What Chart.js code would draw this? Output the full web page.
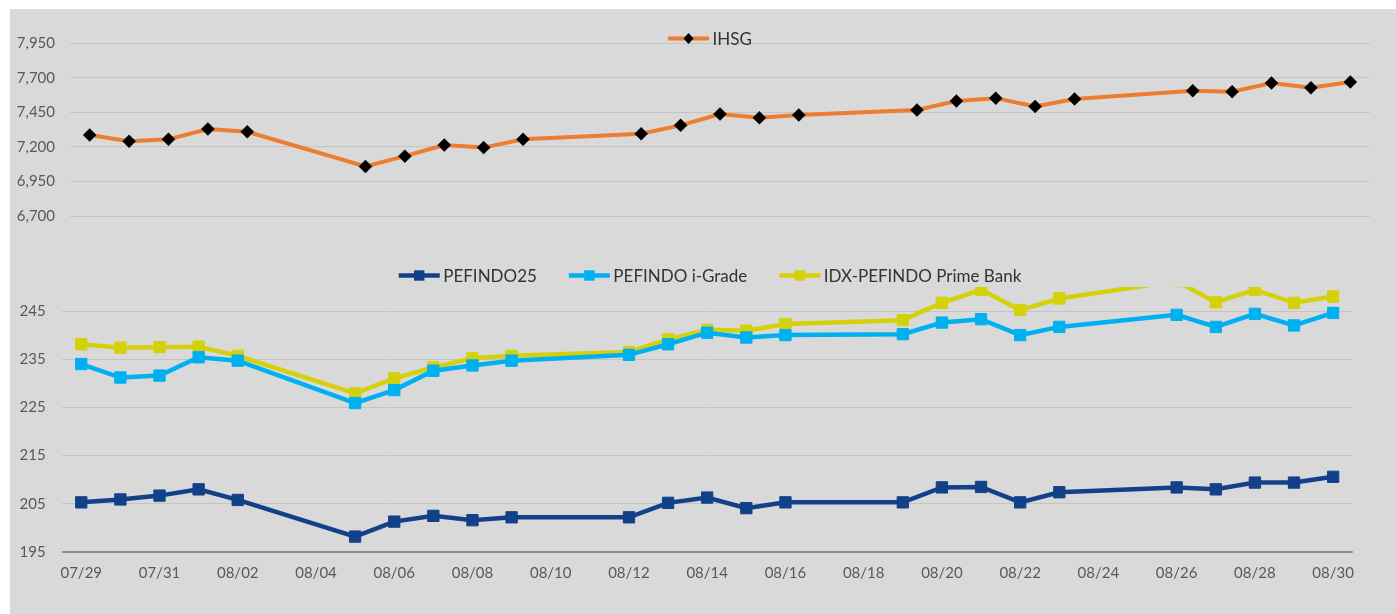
<!DOCTYPE html>
<html>
<head>
<meta charset="utf-8">
<script src="https://cdn.jsdelivr.net/npm/chart.js@4.4.1/dist/chart.umd.min.js"></script>
<style>
html,body{margin:0;padding:0;background:#ffffff;width:1396px;height:614px;overflow:hidden;}
#bg{position:absolute;left:10px;top:9px;width:1386px;height:605px;background:#d9d9d9;}
.wrap{position:absolute;left:10px;width:1386px;}
</style>
</head>
<body>
<div id="bg"></div>
<div class="wrap" style="top:9px;height:236px;"><canvas id="topChart"></canvas></div>
<div class="wrap" style="top:245px;height:369px;"><canvas id="botChart"></canvas></div>
<script>
// ---------- data ----------
const dates = ["07/29","07/30","07/31","08/01","08/02","08/05","08/06","08/07","08/08","08/09",
  "08/12","08/13","08/14","08/15","08/16","08/19","08/20","08/21","08/22","08/23",
  "08/26","08/27","08/28","08/29","08/30"];
const ihsg = [7286,7241,7255,7330,7310,7058,7133,7213,7195,7255,
  7295,7356,7438,7411,7431,7467,7532,7553,7493,7547,
  7607,7600,7663,7628,7670];
const pefindo25 = [205.3,205.9,206.7,208.0,205.8,198.2,201.3,202.5,201.6,202.2,
  202.2,205.2,206.3,204.1,205.3,205.3,208.4,208.5,205.3,207.4,
  208.4,208.0,209.4,209.4,210.6];
const iGrade = [234.0,231.2,231.6,235.4,234.7,225.9,228.6,232.6,233.7,234.7,
  235.9,238.1,240.5,239.5,240.0,240.2,242.6,243.3,240.0,241.7,
  244.2,241.7,244.4,242.0,244.6];
const primeBank = [238.1,237.4,237.5,237.6,235.7,227.9,231.0,233.3,235.2,235.7,
  236.5,239.1,241.1,240.9,242.3,243.1,246.7,249.4,245.2,247.6,
  251.2,246.8,249.4,246.7,248.0];
const xTickLabels = ["07/29","07/31","08/02","08/04","08/06","08/08","08/10","08/12","08/14",
  "08/16","08/18","08/20","08/22","08/24","08/26","08/28","08/30"];
const ihsgTicks = [6700,6950,7200,7450,7700,7950];
const indexTicks = [195,205,215,225,235,245];
const seriesNames = ["IHSG","PEFINDO25","PEFINDO i-Grade","IDX-PEFINDO Prime Bank"];

// ---------- helpers ----------
function dayIndex(s){
  const p = s.split('/').map(Number);
  return (Date.UTC(2024,p[0]-1,p[1]) - Date.UTC(2024,6,29)) / 86400000;
}
function pts(arr){ return dates.map((d,i)=>({x:dayIndex(d), y:arr[i]})); }
const xMin = dayIndex(dates[0]) - 0.5;
const xMax = dayIndex(dates[dates.length-1]) + 0.5;
const FONT = 'Lato';

const lineLegend = {
  id:'lineLegend',
  afterDraw(chart, args, opts){
    const ctx = chart.ctx;
    const fs = 17;
    ctx.save();
    ctx.font = fs + 'px ' + FONT;
    const sym = 41, gapT = 3.5, gapI = 32;
    const items = chart.data.datasets.map(ds=>({ds, tw: ctx.measureText(ds.label).width}));
    const total = items.reduce((a,b)=>a + sym + gapT + b.tw, 0) + gapI*(items.length-1);
    let x = opts.cx - total/2;
    const y = opts.y;
    items.forEach(it=>{
      const ds = it.ds;
      ctx.strokeStyle = ds.borderColor;
      ctx.lineWidth = ds.borderWidth;
      ctx.lineCap = 'butt';
      ctx.beginPath(); ctx.moveTo(x, y); ctx.lineTo(x+sym, y); ctx.stroke();
      const cx = x + sym/2;
      ctx.fillStyle = ds.pointBackgroundColor;
      ctx.beginPath();
      if (ds.pointStyle === 'rectRot') {
        const r = 5.5;
        ctx.moveTo(cx, y-r); ctx.lineTo(cx+r*0.9, y); ctx.lineTo(cx, y+r); ctx.lineTo(cx-r*0.9, y); ctx.closePath();
      } else {
        const h = 5.2;
        ctx.rect(cx-h, y-h, 2*h, 2*h);
      }
      ctx.fill();
      ctx.fillStyle = '#333333';
      ctx.textBaseline = 'alphabetic';
      ctx.textAlign = 'left';
      ctx.fillText(ds.label, x + sym + gapT, y + 0.36*fs);
      x += sym + gapT + it.tw + gapI;
    });
    ctx.restore();
  }
};

function yScale(min, max, ticksArr, width, pad){
  return {
    min:min, max:max,
    afterFit: s => { s.width = width; },
    afterBuildTicks: s => { s.ticks = ticksArr.map(v=>({value:v})); },
    ticks:{color:'#595959', font:{family:FONT, size:15}, padding:pad,
      callback: v => Number(v).toLocaleString('en-US')},
    grid:{drawTicks:false, color:'#c4c4c4', lineWidth:1},
    border:{display:false}
  };
}

// ---------- top chart: IHSG ----------
new Chart(document.getElementById('topChart'), {
  type:'line',
  data:{datasets:[{
    label:seriesNames[0], data:pts(ihsg),
    borderColor:'#ED7D31', borderWidth:4, tension:0,
    pointStyle:'rectRot', pointRadius:6.5, pointBorderWidth:0.5,
    pointBackgroundColor:'#000000', pointBorderColor:'#000000'
  }]},
  options:{
    responsive:true, maintainAspectRatio:false, animation:false,
    layout:{padding:{top:34.3, right:26, bottom:29, left:0}},
    plugins:{legend:{display:false}, tooltip:{enabled:false}, lineLegend:{cx:700, y:29.5}},
    scales:{
      x:{type:'linear', min:xMin, max:xMax, display:false},
      y:yScale(6700, 7950, ihsgTicks, 60, 15)
    }
  },
  plugins:[lineLegend]
});

// ---------- bottom chart: PEFINDO indices ----------
const yb = yScale(195, 250, indexTicks, 51.7, 16);
yb.grid.color = c => (c.tick && c.tick.value === indexTicks[0]) ? '#8c8c8c' : '#c4c4c4';
yb.grid.lineWidth = c => (c.tick && c.tick.value === indexTicks[0]) ? 2 : 1;

function sq(label, arr, color){
  return {label, data:pts(arr), borderColor:color, borderWidth:4.5, tension:0,
    pointStyle:'rect', pointRadius:8, pointBorderWidth:1,
    pointBackgroundColor:color, pointBorderColor:color};
}
new Chart(document.getElementById('botChart'), {
  type:'line',
  data:{datasets:[
    sq(seriesNames[1], pefindo25, '#12418A'),
    sq(seriesNames[2], iGrade, '#00B0F0'),
    sq(seriesNames[3], primeBank, '#D4D10B')
  ]},
  options:{
    responsive:true, maintainAspectRatio:false, animation:false,
    layout:{padding:{top:41.9, right:43.3, bottom:0, left:0}},
    plugins:{legend:{display:false}, tooltip:{enabled:false}, lineLegend:{cx:700, y:30.5}},
    scales:{
      x:{type:'linear', min:xMin, max:xMax,
        afterFit: s => { s.height = 62; },
        afterBuildTicks: s => { s.ticks = xTickLabels.map(l=>({value:dayIndex(l)})); },
        ticks:{color:'#595959', font:{family:FONT, size:15}, padding:12, autoSkip:false, maxRotation:0,
          callback:(v,i)=>xTickLabels[i]},
        grid:{display:false, drawTicks:false},
        border:{display:false}
      },
      y:yb
    }
  },
  plugins:[lineLegend]
});
</script>
</body>
</html>
